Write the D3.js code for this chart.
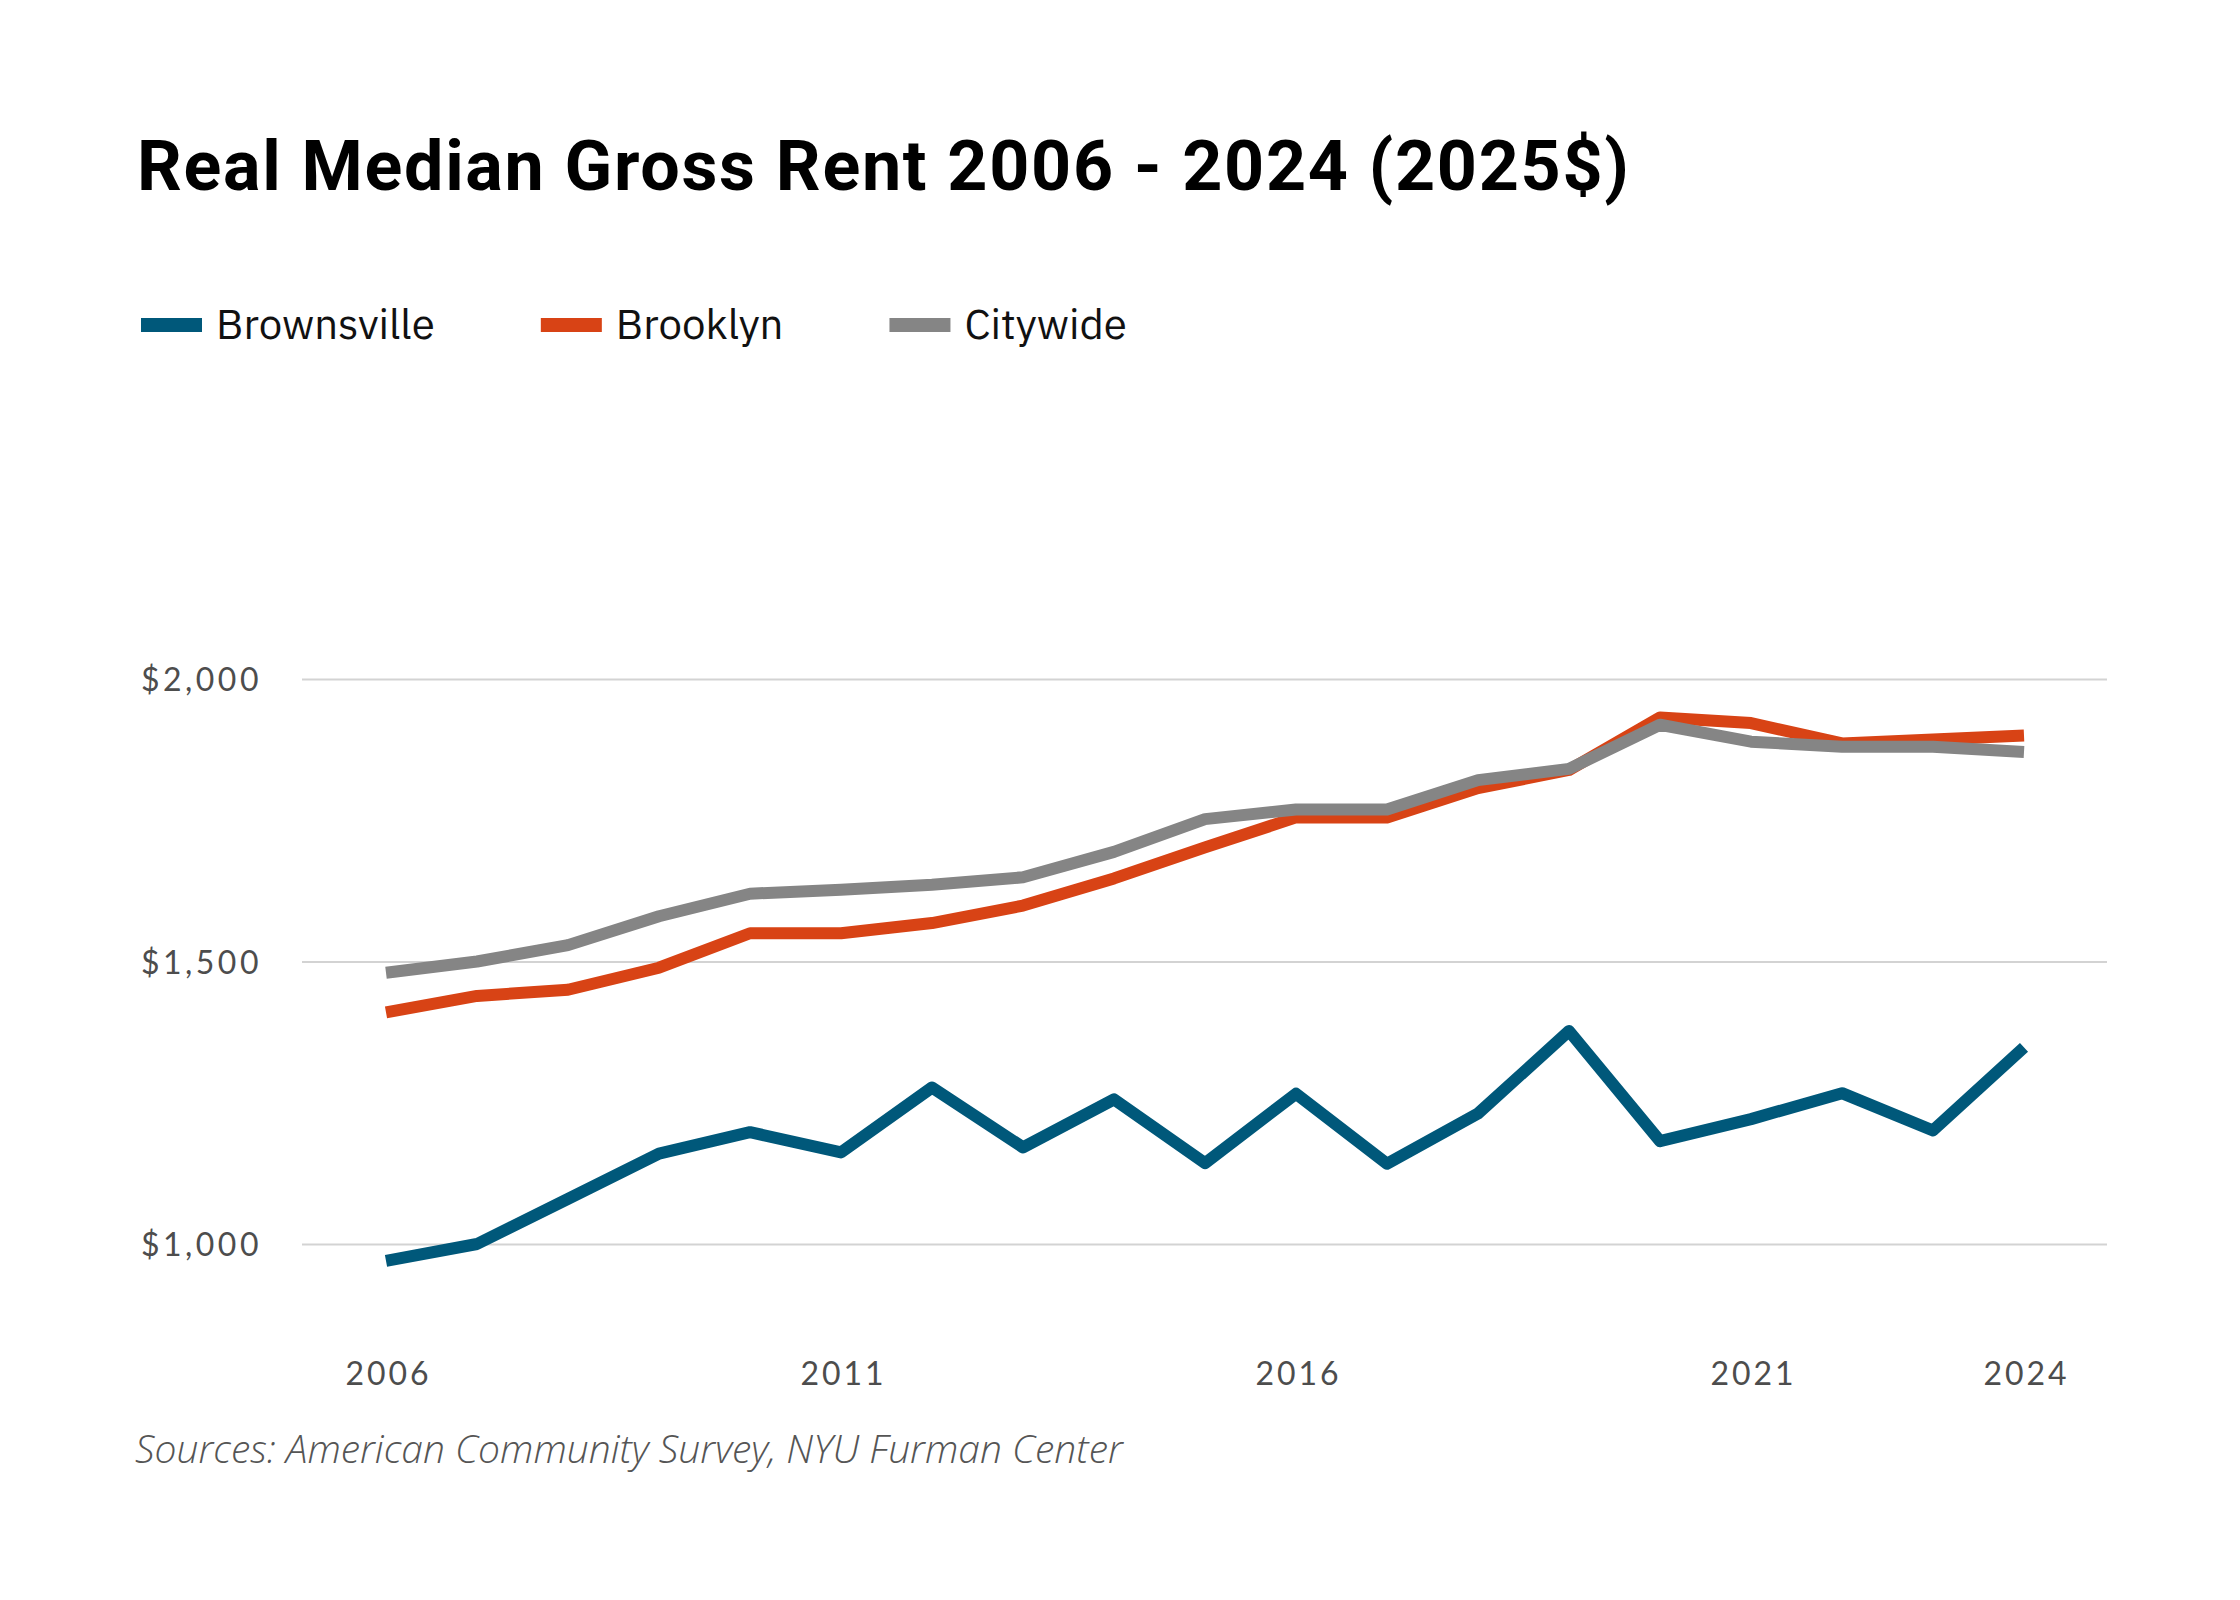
<!DOCTYPE html>
<html>
<head>
<meta charset="utf-8">
<script src="https://cdn.jsdelivr.net/npm/d3@7"></script>
<style>
  body { margin: 0; background: #fff; }
  svg { display: block; }
</style>
</head>
<body>
<svg id="chart" width="2240" height="1600"></svg>
<script>
// Real median gross rent, 2025 dollars
const years = [2006, 2007, 2008, 2009, 2010, 2011, 2012, 2013, 2014, 2015,
  2016, 2017, 2018, 2019, 2020, 2021, 2022, 2023, 2024];
const brownsville = [970, 1000, 1080, 1160, 1198, 1162, 1277, 1171, 1256, 1143,
  1266, 1142, 1231, 1377, 1182, 1221, 1267, 1201, 1348];
const brooklyn = [1410, 1439, 1450, 1489, 1550, 1550, 1568, 1599, 1647, 1702,
  1755, 1755, 1807, 1839, 1932, 1922, 1886, 1893, 1900];
const citywide = [1480, 1500, 1529, 1580, 1620, 1627, 1636, 1649, 1694, 1752,
  1769, 1769, 1821, 1841, 1919, 1889, 1880, 1880, 1871];

const seriesNames = ['Brownsville', 'Brooklyn', 'Citywide'];
const seriesValues = [brownsville, brooklyn, citywide];
const seriesColors = ['#00587a', '#d84315', '#858585'];

const yTicks = [1000, 1500, 2000];
const xTicks = [2006, 2011, 2016, 2021, 2024];

const titleText = 'Real Median Gross Rent 2006 - 2024 (2025$)';
const sourceText = 'Sources: American Community Survey, NYU Furman Center';

const svg = d3.select('#chart');

const grid = { left: 302, right: 2107 };
const x = d3.scaleLinear().domain([2006, 2024]).range([386, 2024]);
const y = d3.scaleLinear().domain([1000, 2000]).range([1244, 679]);

// Title
svg.append('text')
  .attr('x', 137)
  .attr('y', 190)
  .style('font-family', 'Roboto, "Noto Sans", sans-serif')
  .style('font-weight', 700)
  .style('font-size', '70px')
  .style('letter-spacing', '1.7px')
  .attr('fill', '#000')
  .text(titleText);

// Legend
const legend = svg.append('g').attr('class', 'legend');
let lx = 141;
seriesNames.forEach((name, i) => {
  legend.append('rect')
    .attr('x', lx)
    .attr('y', 318)
    .attr('width', 61)
    .attr('height', 14)
    .attr('fill', seriesColors[i]);
  const t = legend.append('text')
    .attr('x', lx + 75)
    .attr('y', 339)
    .style('font-family', '"IBM Plex Sans", "Noto Sans", sans-serif')
    .style('font-size', '42px')
    .attr('fill', '#111')
    .text(name);
  lx += 75 + t.node().getComputedTextLength() + 106;
});

// Y axis with gridlines
const yAxis = svg.append('g')
  .attr('class', 'yAxis')
  .attr('transform', `translate(${grid.left},0)`)
  .call(d3.axisLeft(y)
    .tickValues(yTicks)
    .tickSize(-(grid.right - grid.left))
    .tickPadding(40)
    .tickFormat(d3.format('$,')));
yAxis.select('.domain').remove();
yAxis.selectAll('.tick line')
  .attr('stroke', '#d3d3d3')
  .attr('stroke-width', 2);
yAxis.selectAll('.tick text')
  .attr('dy', '0.36em')
  .style('font-family', 'Lato, sans-serif')
  .style('font-size', '32px')
  .style('letter-spacing', '3.5px')
  .attr('fill', '#4d4d4d');

// X axis
const xAxis = svg.append('g')
  .attr('class', 'xAxis')
  .attr('transform', 'translate(2,1342)')
  .call(d3.axisBottom(x)
    .tickValues(xTicks)
    .tickSize(0)
    .tickPadding(20)
    .tickFormat(d3.format('d')));
xAxis.select('.domain').remove();
xAxis.selectAll('.tick text')
  .style('font-family', 'Lato, sans-serif')
  .style('font-size', '32px')
  .style('letter-spacing', '3px')
  .attr('fill', '#4d4d4d');

// Lines
const line = d3.line()
  .x((d, i) => x(years[i]))
  .y(d => y(d));

svg.append('g')
  .attr('class', 'lines')
  .selectAll('path')
  .data(seriesValues)
  .enter()
    .append('path')
    .attr('d', d => line(d))
    .attr('fill', 'none')
    .attr('stroke', (d, i) => seriesColors[i])
    .attr('stroke-width', 12)
    .attr('stroke-linejoin', 'round')
    .attr('stroke-linecap', 'butt');

// Source note
svg.append('text')
  .attr('x', 135)
  .attr('y', 1463)
  .style('font-family', '"Open Sans", sans-serif')
  .style('font-style', 'italic')
  .style('font-weight', 300)
  .style('font-size', '39px')
  .attr('fill', '#555')
  .text(sourceText);
</script>
</body>
</html>
